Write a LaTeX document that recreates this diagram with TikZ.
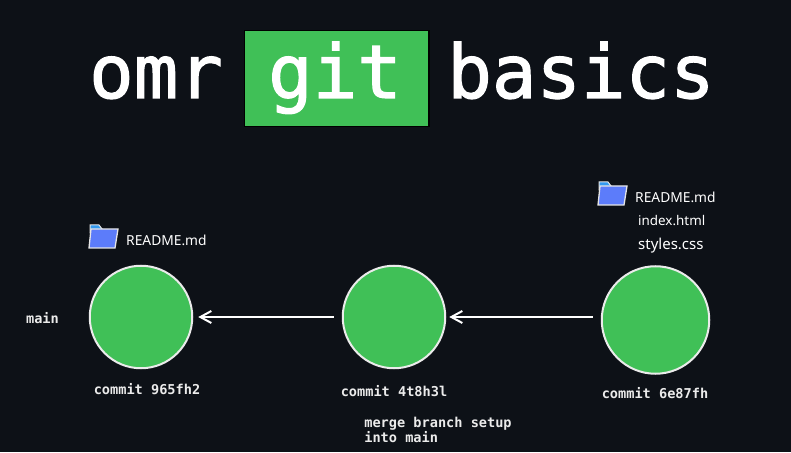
\documentclass[tikz,border=0pt]{standalone}
\usepackage{fontspec}
\setmonofont{DejaVu Sans Mono}
\setsansfont{Noto Sans}
\newfontfamily\titlefont[RawFeature={embolden=1.6}]{DejaVu Sans Mono}
\usepackage{tikz}
\usetikzlibrary{arrows.meta,positioning,calc}
\definecolor{bgdark}{HTML}{0D1117}
\definecolor{gitgreen}{HTML}{40C057}
\definecolor{folderblue}{HTML}{5C7CFA}
\definecolor{foldertab}{HTML}{339AF0}
\tikzset{
  commit/.style={circle, draw=white!92!black, line width=2pt, fill=gitgreen, minimum size=#1, inner sep=0pt},
  lbl/.style={font=\ttfamily\bfseries\fontsize{13.6}{15}\selectfont, text=white!92!black, inner sep=0pt},
  hand/.style={font=\sffamily\fontsize{#1}{14}\selectfont, text=white, inner sep=0pt, anchor=west},
  title/.style={font=\titlefont\fontsize{74}{80}\selectfont, text=white, inner sep=0pt, anchor=base},
  histarrow/.style={-{Straight Barb[length=11pt,width=12pt]}, white, line width=2pt}
}
\newcommand{\folder}[2]{%
  \fill[foldertab, draw=white!90!black, line width=1pt] (#1+2,#2-9) -- (#1+2,#2-1) -- (#1+11,#2-1) -- (#1+14,#2-5) -- (#1+22,#2-9) -- cycle;
  \fill[folderblue, draw=white!90!black, line width=1.3pt] (#1+3,#2-5) -- (#1+30,#2-5) -- (#1+27,#2-24) -- (#1+1,#2-24) -- cycle;
}
\begin{document}
\begin{tikzpicture}[x=1pt, y=1pt]
\fill[bgdark] (0,0) rectangle (791,452);
\useasboundingbox (0,0) rectangle (791,452);

\node[draw=black, line width=1.5pt, fill=gitgreen, minimum width=184.5pt, minimum height=96pt, inner sep=0pt] (gitbox) at (336.5,373.5) {};
\node[title] (omr) at (156,354) {omr};
\node[title] (git) at (335,354) {git};
\node[title] (basics) at (581,354) {basics};

\node[commit=102.5pt] (c1) at (141,135) {};
\node[commit=102.5pt] (c2) at (394,135) {};
\node[commit=107.5pt] (c3) at (655.5,132) {};

\draw[histarrow, shorten <=8pt, shorten >=5pt] (c2) -- (c1);
\draw[histarrow, shorten <=8pt, shorten >=3pt] (c2 -| c3.west) -- (c2);

\node[lbl] (mainlbl) at (42.5,134) {main};
\node[lbl] (c1lbl) at (147,63) {commit 965fh2};
\node[lbl] (c2lbl) at (394,61) {commit 4t8h3l};
\node[lbl] (c3lbl) at (655,59) {commit 6e87fh};
\node[lbl, align=left] (mergelbl) at (438,22) {merge branch setup\\into main};

\folder{88}{228}
\folder{597}{271}
\node[hand=13.8] (readme1) at (126,212) {README.md};
\node[hand=13.8] (readme3) at (635,255) {README.md};
\node[hand=13.4] (indexf) at (638,231) {index.html};
\node[hand=15] (stylesf) at (638,206) {styles.css};
\end{tikzpicture}
\end{document}
